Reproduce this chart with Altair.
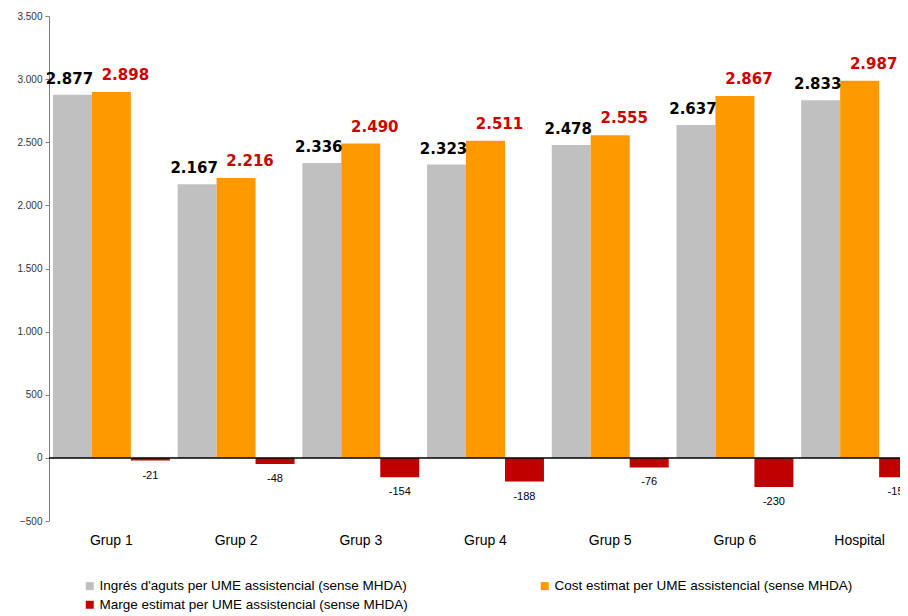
import altair as alt
import pandas as pd

groups = ["Grup 1", "Grup 2", "Grup 3", "Grup 4", "Grup 5", "Grup 6", "Hospital"]
series = [
    "Ingrés d'aguts per UME assistencial (sense MHDA)",
    "Cost estimat per UME assistencial (sense MHDA)",
    "Marge estimat per UME assistencial (sense MHDA)",
]
ingres = [2877, 2167, 2336, 2323, 2478, 2637, 2833]
cost = [2898, 2216, 2490, 2511, 2555, 2867, 2987]
marge = [-21, -48, -154, -188, -76, -230, -154]
colors = {series[0]: "#C0C0C0", series[1]: "#FF9900", series[2]: "#C00000"}
legend_order = [series[0], series[2], series[1]]
y_ticks = [-500, 0, 500, 1000, 1500, 2000, 2500, 3000, 3500]

rows = []
for s, vals in zip(series, [ingres, cost, marge]):
    for g, v in zip(groups, vals):
        rows.append({"group": g, "series": s, "value": v,
                     "label": f"{v:,}".replace(",", ".")})
df = pd.DataFrame(rows)

FONT = "Liberation Sans"

x_enc = alt.X("group:N", sort=groups,
              scale=alt.Scale(paddingInner=0, paddingOuter=0, range=[0, 873]),
              axis=alt.Axis(title=None, domain=False, ticks=False, tickSize=0,
                            labelAngle=0, labelFontSize=14, labelFont=FONT,
                            labelColor="#000000", labelPadding=12))
xo_enc = alt.XOffset("series:N", sort=series,
                     scale=alt.Scale(paddingOuter=0.1, paddingInner=0))
y_enc = alt.Y("value:Q",
              scale=alt.Scale(domain=[-500, 3500], nice=False, zero=False),
              axis=alt.Axis(title=None, values=y_ticks, grid=False,
                            labelExpr="replace(format(datum.value, ','), ',', '.')",
                            labelFont=FONT, labelFontSize=10, labelColor="#333333",
                            domainColor="#808080", tickColor="#808080",
                            tickSize=4, labelPadding=3))

base = alt.Chart(df)

bars = base.mark_bar().encode(
    x=x_enc, xOffset=xo_enc, y=y_enc,
    color=alt.Color("series:N",
                    scale=alt.Scale(domain=legend_order,
                                    range=[colors[s] for s in legend_order]),
                    legend=alt.Legend(title=None, orient="none", legendX=34, legendY=563,
                                      columns=2, columnPadding=130, rowPadding=4,
                                      symbolType="square", symbolSize=64,
                                      symbolStrokeWidth=0, labelFont=FONT,
                                      labelFontSize=13.5, labelColor="#000000",
                                      labelOffset=3, labelLimit=400)),
)

txt_in = base.transform_filter(alt.datum.series == series[0]).mark_text(
    font="DejaVu Sans", fontWeight="bold", fontSize=15, color="#000000",
    baseline="middle", dy=-16, dx=-3,
).encode(x=x_enc, xOffset=xo_enc, y=y_enc, text="label:N")

txt_cost = base.transform_filter(alt.datum.series == series[1]).mark_text(
    font="DejaVu Sans", fontWeight="bold", fontSize=15, color="#CC0000",
    baseline="middle", dy=-17, dx=14,
).encode(x=x_enc, xOffset=xo_enc, y=y_enc, text="label:N")

txt_marge = base.transform_filter(alt.datum.series == series[2]).mark_text(
    font=FONT, fontSize=11, color="#000000", baseline="middle", dy=15,
).encode(x=x_enc, xOffset=xo_enc, y=y_enc, text="label:N")

zero = alt.Chart(pd.DataFrame({"z": [0]})).mark_rule(color="#000000", strokeWidth=1.5).encode(
    y=alt.Y("z:Q"))

chart = alt.layer(bars, txt_in, txt_cost, txt_marge, zero).properties(
    width=851, height=505,
    autosize=alt.AutoSizeParams(type="none"),
    padding={"left": 41, "top": 8, "right": 0, "bottom": 92},
).configure_view(stroke=None).configure_axis(labelFont=FONT)

chart.save("out.html", embed_options={"renderer": "svg", "actions": False})
